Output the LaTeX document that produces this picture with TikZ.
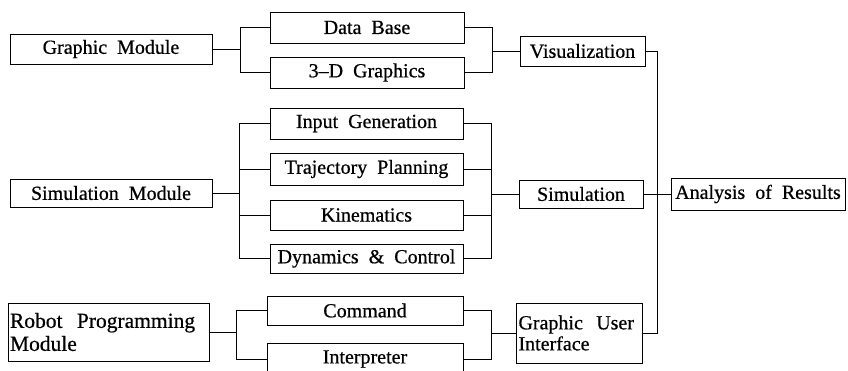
\documentclass[tikz,border=0pt]{standalone}
\usepackage{fontspec}
\setmainfont{Liberation Serif}
\newfontfamily\diagfont[FakeBold=0.6, Ligatures=TeX]{Liberation Serif}
\usepackage{tikz}
\usetikzlibrary{calc, positioning}
\tikzstyle{block} = [rectangle, draw, text centered, line width=1pt, minimum height=30pt, inner sep=2pt, font=\diagfont\fontsize{20}{21}\selectfont]

\begin{document}
\begin{tikzpicture}[x=1pt, y=-1pt, line width=0.9pt]
        \useasboundingbox (0, 0) rectangle (848, 370);

        % left column
        \node[block, minimum width=202pt] at (111, 49) (Graphic_Module) {Graphic \ Module};
        \node[block, minimum width=202pt, minimum height=28pt] at (111, 193) (Simulation_Module) {Simulation \ Module};
        \node[block, minimum width=201pt, minimum height=58pt, align=left, text width=197pt, font=\diagfont\fontsize{21.5}{23}\selectfont] at (108.5, 332) (Robot_Programming) {Robot \ Programming\\Module};

        % middle column
        \node[block, minimum width=194pt, minimum height=31pt] at (367, 27.5) (Data_Base) {Data \ Base};
        \node[block, minimum width=194pt, minimum height=31pt] at (367, 72.5) (Graphics_3D) {3--D \ Graphics};
        \node[block, minimum width=193pt, minimum height=31pt] at (366.5, 123.5) (Input_Generation) {Input \ Generation};
        \node[block, minimum width=193pt, minimum height=32pt] at (366.5, 169) (Trajectory_Planning) {Trajectory \ Planning};
        \node[block, minimum width=193pt] at (366.5, 215) (Kinematics) {Kinematics};
        \node[block, minimum width=193pt, minimum height=29pt] at (366.5, 258.5) (Dynamics_Control) {Dynamics \ \& \ Control};
        \node[block, minimum width=196pt, minimum height=29pt] at (365, 310.5) (Command) {Command};
        \node[block, minimum width=196pt, minimum height=32pt] at (365, 359) (Interpreter) {Interpreter};

        % right column
        \node[block, minimum width=125pt] at (582.5, 51) (Visualization) {Visualization};
        \node[block, minimum width=124pt, minimum height=28pt] at (581, 194) (Simulation) {Simulation};
        \node[block, minimum width=125pt, minimum height=60pt, align=left, text width=122pt] at (579.5, 333) (GUI) {Graphic \ User\\Interface};
        \node[block, minimum width=174pt, minimum height=32pt] at (758, 194) (Analysis_Results) {Analysis \ of \ Results};

        % forks and joins
        \coordinate (GM_FORK) at (240, 49);
        \coordinate (SM_FORK) at (239, 193);
        \coordinate (RP_FORK) at (236, 332);
        \coordinate (VIS_JOIN) at (492, 51);
        \coordinate (SIM_JOIN) at (491, 194);
        \coordinate (GUI_JOIN) at (491, 333);
        \coordinate (RES_JOIN) at (657, 194);

        \draw (Graphic_Module) -- (GM_FORK);
        \draw (GM_FORK) |- (Data_Base);
        \draw (GM_FORK) |- (Graphics_3D);

        \draw (Simulation_Module) -- (SM_FORK);
        \draw (SM_FORK) |- (Input_Generation);
        \draw (SM_FORK) |- (Trajectory_Planning);
        \draw (SM_FORK) |- (Kinematics);
        \draw (SM_FORK) |- (Dynamics_Control);

        \draw (Robot_Programming) -- (RP_FORK);
        \draw (RP_FORK) |- (Command);
        \draw (RP_FORK) |- (Interpreter);

        \draw (Data_Base) -| (VIS_JOIN);
        \draw (Graphics_3D) -| (VIS_JOIN);
        \draw (VIS_JOIN) -- (Visualization);

        \draw (Input_Generation) -| (SIM_JOIN);
        \draw (Trajectory_Planning) -| (SIM_JOIN);
        \draw (Kinematics) -| (SIM_JOIN);
        \draw (Dynamics_Control) -| (SIM_JOIN);
        \draw (SIM_JOIN) -- (Simulation);

        \draw (Command) -| (GUI_JOIN);
        \draw (Interpreter) -| (GUI_JOIN);
        \draw (GUI_JOIN) -- (GUI);

        \draw (Visualization) -| (RES_JOIN);
        \draw (GUI) -| (RES_JOIN);
        \draw (Simulation) -- (Analysis_Results);
\end{tikzpicture}
\end{document}
